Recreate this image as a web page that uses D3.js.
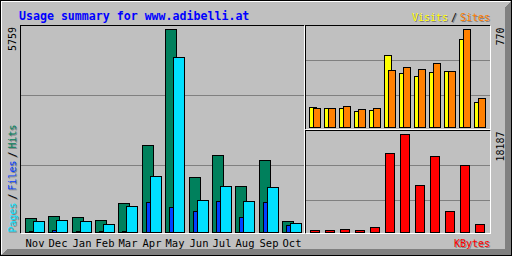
<html lang="en">
  <head>
    <meta charset="UTF-8" />
    <title>Usage summary for www.adibelli.at</title>
    <script src="https://d3js.org/d3.v7.min.js"></script>
    <style>
      * {
        margin: 0;
        padding: 0;
      }
      svg text {
        font-family: "DejaVu Sans Mono", monospace;
      }
    </style>
  </head>
  <body>
    <div id="svgContainer"></div>
    <script>
      const months = ["Nov", "Dec", "Jan", "Feb", "Mar", "Apr", "May", "Jun", "Jul", "Aug", "Sep", "Oct"];
      const hits = [389, 445, 417, 340, 823, 2460, 5759, 1552, 2176, 1296, 2034, 304];
      const files = [20, 45, 40, 40, 30, 843, 701, 596, 871, 417, 843, 190];
      const pages = [312, 340, 312, 227, 738, 1580, 4956, 899, 1296, 871, 1268, 247];
      const visits = [157, 149, 149, 126, 134, 566, 424, 401, 432, 440, 691, 196];
      const sites = [149, 149, 165, 141, 149, 448, 471, 456, 503, 440, 770, 228];
      const kbytes = [371, 371, 557, 371, 928, 14661, 18187, 8722, 14104, 3897, 12434, 1485];

      const GREY = "#c0c0c0";
      const DKGREY = "#808080";
      const HITCOLOR = "#00805c";
      const FILECOLOR = "#0040ff";
      const PAGECOLOR = "#00e0ff";
      const VISITCOLOR = "#ffff00";
      const SITECOLOR = "#ff8000";
      const KBYTECOLOR = "#ff0000";

      let svg = d3
        .select("#svgContainer")
        .append("svg")
        .attr("width", 512)
        .attr("height", 256)
        .attr("shape-rendering", "crispEdges");

      // background and 3d border
      svg.append("rect")
        .attr("x", 0.5).attr("y", 0.5)
        .attr("width", 511).attr("height", 255)
        .attr("fill", GREY).attr("stroke", "black");
      svg.append("path")
        .attr("d", "M1.5,254 V1.5 H510")
        .attr("fill", "none").attr("stroke", "white");
      svg.append("polygon")
        .attr("points", "1,255 7,249 505,249 505,7 511,1 511,255")
        .attr("fill", DKGREY);
      svg.append("path")
        .attr("d", "M0.5,0 V255.5 H511.5 V0")
        .attr("fill", "none").attr("stroke", "black");

      function panel(x0, y0, x1, y1, grid) {
        let p = svg.append("g");
        grid.forEach((gy) => {
          p.append("line")
            .attr("x1", x0 + 1).attr("x2", x1)
            .attr("y1", gy + 0.5).attr("y2", gy + 0.5)
            .attr("stroke", DKGREY);
        });
        p.append("path")
          .attr("d", `M${x0 + 0.5},${y1} V${y0 + 0.5} H${x1}`)
          .attr("fill", "none").attr("stroke", "black");
        p.append("path")
          .attr("d", `M${x0 + 1},${y1 + 0.5} H${x1 + 0.5} V${y0 + 1}`)
          .attr("fill", "none").attr("stroke", "white");
        return p;
      }

      let mainP = panel(20, 25, 304, 233, [95, 165]);
      let visitP = panel(305, 25, 490, 129, [60, 95]);
      let kbP = panel(305, 130, 490, 233, [165, 200]);

      // scales
      let xMain = d3.scaleBand().domain(months).range([25, 25 + 23.36 * 12]);
      let xSide = d3.scaleBand().domain(months).range([309, 309 + 15 * 12]);
      let yMain = d3.scaleLinear().domain([0, d3.max(hits)]).range([232, 29]);
      let yVisit = d3.scaleLinear().domain([0, d3.max(sites.concat(visits))]).range([127, 29]);
      let yKb = d3.scaleLinear().domain([0, d3.max(kbytes)]).range([232, 134]);

      function bars(g, values, xs, ys, offset, w, color) {
        let base = ys(0);
        g.selectAll(null)
          .data(values)
          .join("rect")
          .attr("x", (d, i) => Math.round(xs(months[i])) + offset + 0.5)
          .attr("y", (d) => Math.round(ys(d)) + 0.5)
          .attr("width", w)
          .attr("height", (d) => base - Math.round(ys(d)))
          .attr("fill", color)
          .attr("stroke", "black");
      }

      bars(mainP, hits, xMain, yMain, 0, 11, HITCOLOR);
      bars(mainP, files, xMain, yMain, 4, 11, FILECOLOR);
      bars(mainP, pages, xMain, yMain, 8, 11, PAGECOLOR);
      bars(visitP, visits, xSide, yVisit, 0, 7, VISITCOLOR);
      bars(visitP, sites, xSide, yVisit, 4, 7, SITECOLOR);
      bars(kbP, kbytes, xSide, yKb, 1, 9, KBYTECOLOR);

      // texts
      function label(x, y, str, color, opts = {}) {
        let rot = opts.up ? ` rotate(-90)` : "";
        if (opts.shadow) {
          svg.append("text")
            .attr("transform", `translate(${x + 1},${y + 1})${rot}`)
            .attr("text-anchor", opts.anchor || "start")
            .attr("font-size", opts.size || 10)
            .attr("fill", DKGREY)
            .text(str);
        }
        svg.append("text")
          .attr("transform", `translate(${x},${y})${rot}`)
          .attr("text-anchor", opts.anchor || "start")
          .attr("font-size", opts.size || 10)
          .attr("font-weight", opts.bold ? "bold" : "normal")
          .attr("fill", color)
          .text(str);
      }

      label(19, 19.5, "Usage summary for www.adibelli.at", "#0000ff", { size: 11.6, bold: true });

      label(448, 20.5, "Visits", VISITCOLOR, { anchor: "end", shadow: true });
      label(451, 20.5, "/", "black", { shadow: true });
      label(490, 20.5, "Sites", SITECOLOR, { anchor: "end", shadow: true });
      label(490, 246.5, "KBytes", KBYTECOLOR, { anchor: "end", shadow: true });

      label(15.5, 232.5, "Pages", PAGECOLOR, { up: true, shadow: true });
      label(15.5, 199.5, "/", "black", { up: true, shadow: true });
      label(15.5, 190.5, "Files", FILECOLOR, { up: true, shadow: true });
      label(15.5, 157.5, "/", "black", { up: true, shadow: true });
      label(15.5, 148.5, "Hits", HITCOLOR, { up: true, shadow: true });

      label(15.5, 27, d3.max(hits), "black", { up: true, anchor: "end" });
      label(503.5, 27.5, d3.max(sites.concat(visits)), "black", { up: true, anchor: "end" });
      label(503.5, 131.5, d3.max(kbytes), "black", { up: true, anchor: "end" });

      svg.selectAll("text.month")
        .data(months)
        .join("text")
        .attr("class", "month")
        .attr("x", (d) => Math.round(xMain(d)) + 10)
        .attr("y", 247)
        .attr("text-anchor", "middle")
        .attr("font-size", 10.5)
        .attr("fill", "black")
        .text((d) => d);
    </script>
  </body>
</html>
